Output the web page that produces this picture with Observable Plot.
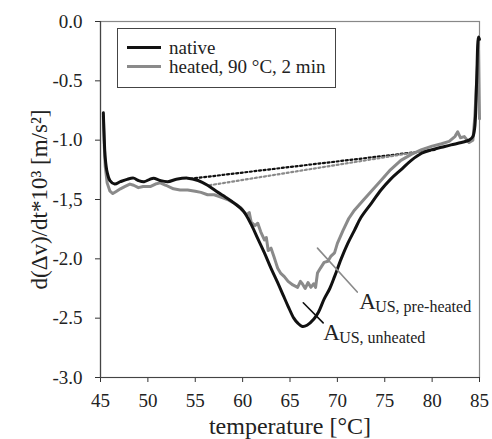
<!DOCTYPE html>
<html>
<head>
<meta charset="utf-8">
<script src="https://cdn.jsdelivr.net/npm/d3@7"></script>
<script src="https://cdn.jsdelivr.net/npm/@observablehq/plot@0.6"></script>
<style>
  html, body { margin: 0; padding: 0; background: #fff; }
  #wrap { position: relative; width: 492px; height: 439px; font-family: "Liberation Serif", "DejaVu Serif", serif; }
  #legend { position: absolute; left: 117px; top: 28px; border: 1.5px solid #444; background: #fff; padding: 9px 10px 11px 9px; font-size: 19px; line-height: 19px; color: #222; }
  #legend .row { display: flex; align-items: center; white-space: nowrap; }
  #legend .sw { width: 34px; height: 3px; margin-right: 8px; }
</style>
</head>
<body>
<div id="wrap"></div>
<script>
// ---- data ----
const seriesNames = ["native", "heated, 90 °C, 2 min"];
const seriesColors = ["#111111", "#8a8a8a"];

const nativeT = [45.3,45.4,45.5,45.7,46.0,46.5,47.1,47.8,48.5,49.0,49.6,50.2,50.6,51.3,52.1,53.0,54.2,55.3,56.3,57.4,58.2,59.1,60.1,60.9,61.6,62.3,63.0,63.7,64.3,64.8,65.4,65.8,66.3,66.8,67.5,68.0,68.6,69.2,69.7,70.4,71.1,71.8,72.5,73.6,74.6,75.6,76.7,77.8,78.9,80.0,81.0,82.0,83.1,83.9,84.3,84.5,84.7,84.9,85.0];
const nativeV = [-0.77,-1.00,-1.15,-1.27,-1.34,-1.37,-1.35,-1.33,-1.32,-1.34,-1.35,-1.33,-1.32,-1.34,-1.35,-1.33,-1.32,-1.34,-1.38,-1.44,-1.48,-1.53,-1.60,-1.71,-1.83,-1.95,-2.08,-2.20,-2.31,-2.40,-2.50,-2.54,-2.57,-2.56,-2.51,-2.45,-2.34,-2.25,-2.15,-2.00,-1.87,-1.76,-1.65,-1.53,-1.42,-1.33,-1.25,-1.17,-1.11,-1.08,-1.06,-1.04,-1.02,-1.00,-0.97,-0.89,-0.50,-0.13,-0.15];

const heatedT = [45.3,45.4,45.5,45.7,46.0,46.3,46.7,47.1,47.6,48.1,48.5,49.0,49.5,50.3,50.8,51.3,51.9,52.7,53.4,54.2,55.0,55.6,56.3,57.0,57.7,58.4,59.1,59.8,60.4,60.7,60.9,61.3,61.6,61.9,62.3,62.5,62.7,63.0,63.3,63.5,63.7,64.0,64.4,64.8,65.3,65.8,66.1,66.3,66.6,66.9,67.2,67.5,67.7,67.9,68.2,68.6,69.0,69.3,69.7,70.0,70.6,71.2,71.8,72.8,73.7,74.6,75.6,76.7,77.8,78.9,80.0,81.0,81.8,82.4,82.7,83.0,83.4,83.9,84.3,84.5,84.8,84.9,85.0];
const heatedV = [-0.80,-1.05,-1.22,-1.36,-1.43,-1.45,-1.43,-1.41,-1.39,-1.37,-1.38,-1.40,-1.39,-1.39,-1.37,-1.36,-1.38,-1.41,-1.42,-1.42,-1.43,-1.44,-1.46,-1.46,-1.48,-1.50,-1.53,-1.57,-1.63,-1.61,-1.69,-1.72,-1.70,-1.77,-1.84,-1.82,-1.93,-1.91,-1.98,-2.03,-2.08,-2.12,-2.15,-2.19,-2.22,-2.24,-2.19,-2.21,-2.25,-2.20,-2.24,-2.21,-2.24,-2.12,-2.08,-2.03,-2.02,-1.98,-1.95,-1.87,-1.76,-1.66,-1.59,-1.50,-1.42,-1.34,-1.25,-1.17,-1.12,-1.08,-1.05,-1.03,-1.01,-0.97,-0.93,-0.98,-0.97,-1.02,-1.00,-0.81,-0.35,-0.24,-0.82];

// integration baselines (dotted)
const baseNativeT = [54.5, 80.5];
const baseNativeV = [-1.325, -1.08];
const baseHeatedT = [56.5, 80.0];
const baseHeatedV = [-1.38, -1.08];

// annotation leader lines and labels
const annPreT = [67.9, 72.1];
const annPreV = [-1.91, -2.28];
const annUnT = [66.4, 68.5];
const annUnV = [-2.37, -2.54];
const annLabels = [
  {t: 72.3, v: -2.36, main: "A", sub: "US, pre-heated"},
  {t: 68.5, v: -2.62, main: "A", sub: "US, unheated"}
];

const xTicks = [45, 50, 55, 60, 65, 70, 75, 80, 85];
const yTicks = [0, -0.5, -1, -1.5, -2, -2.5, -3];
const yTickLabels = ["0.0", "-0.5", "-1.0", "-1,5", "-2.0", "-2.5", "-3.0"];
const xTitle = "temperature [°C]";
const yTitle = "d(Δv)/dt*10³ [m/s²]";

// ---- build ----
const zip = (T, V) => T.map((t, i) => ({t, v: V[i]}));
const native = zip(nativeT, nativeV);
const heated = zip(heatedT, heatedV);
const yLab = new Map(yTicks.map((d, i) => [d, yTickLabels[i]]));

const chart = Plot.plot({
  width: 492, height: 439,
  marginLeft: 100, marginRight: 13, marginTop: 21, marginBottom: 62,
  style: {fontFamily: "Liberation Serif, serif", fontSize: "19px", color: "#222", background: "#fff", overflow: "visible"},
  x: {domain: [45, 85]},
  y: {domain: [-3, 0]},
  marks: [
    Plot.frame({stroke: "#888", strokeWidth: 1.2}),
    Plot.axisX({ticks: xTicks, tickSize: 5, tickPadding: 11, fontSize: 19, tickFormat: d => String(d), label: xTitle, labelAnchor: "center", labelOffset: 56, labelArrow: "none", stroke: "#333"}),
    Plot.axisY({ticks: yTicks, tickSize: 5, tickPadding: 13, fontSize: 19, tickFormat: d => yLab.get(d), label: yTitle, labelAnchor: "center", labelOffset: 70, labelArrow: "none", stroke: "#333"}),
    Plot.ruleX([45], {stroke: "#444", strokeWidth: 1.2}),
    Plot.ruleY([-3], {stroke: "#444", strokeWidth: 1.2}),
    Plot.line(zip(baseNativeT, baseNativeV), {x: "t", y: "v", stroke: seriesColors[0], strokeWidth: 2.2, strokeDasharray: "2,2.6"}),
    Plot.line(zip(baseHeatedT, baseHeatedV), {x: "t", y: "v", stroke: seriesColors[1], strokeWidth: 2.2, strokeDasharray: "2,2.6"}),
    Plot.line(heated, {x: "t", y: "v", stroke: seriesColors[1], strokeWidth: 3, curve: "linear"}),
    Plot.line(native, {x: "t", y: "v", stroke: seriesColors[0], strokeWidth: 3, curve: "catmull-rom"}),
    Plot.line(zip(annPreT, annPreV), {x: "t", y: "v", stroke: "#8a8a8a", strokeWidth: 1.6}),
    Plot.line(zip(annUnT, annUnV), {x: "t", y: "v", stroke: "#111", strokeWidth: 1.6}),
    Plot.text(annLabels, {x: "t", y: "v", text: "main", textAnchor: "start", fontSize: 23, fill: "#222"}),
    Plot.text(annLabels, {x: "t", y: "v", text: "sub", textAnchor: "start", fontSize: 16, dx: 16, dy: 5, fill: "#222"})
  ]
});

// bigger axis titles
d3.select(chart).selectAll("[aria-label='x-axis label'] text").style("font-size", "24px");
d3.select(chart).selectAll("[aria-label='y-axis label'] text").style("font-size", "23px");

const wrap = document.getElementById("wrap");
wrap.appendChild(chart);

const legend = document.createElement("div");
legend.id = "legend";
seriesNames.forEach((n, i) => {
  const row = document.createElement("div");
  row.className = "row";
  const sw = document.createElement("span");
  sw.className = "sw";
  sw.style.background = seriesColors[i];
  const tx = document.createElement("span");
  tx.textContent = n;
  row.appendChild(sw); row.appendChild(tx);
  legend.appendChild(row);
});
wrap.appendChild(legend);
</script>
</body>
</html>
